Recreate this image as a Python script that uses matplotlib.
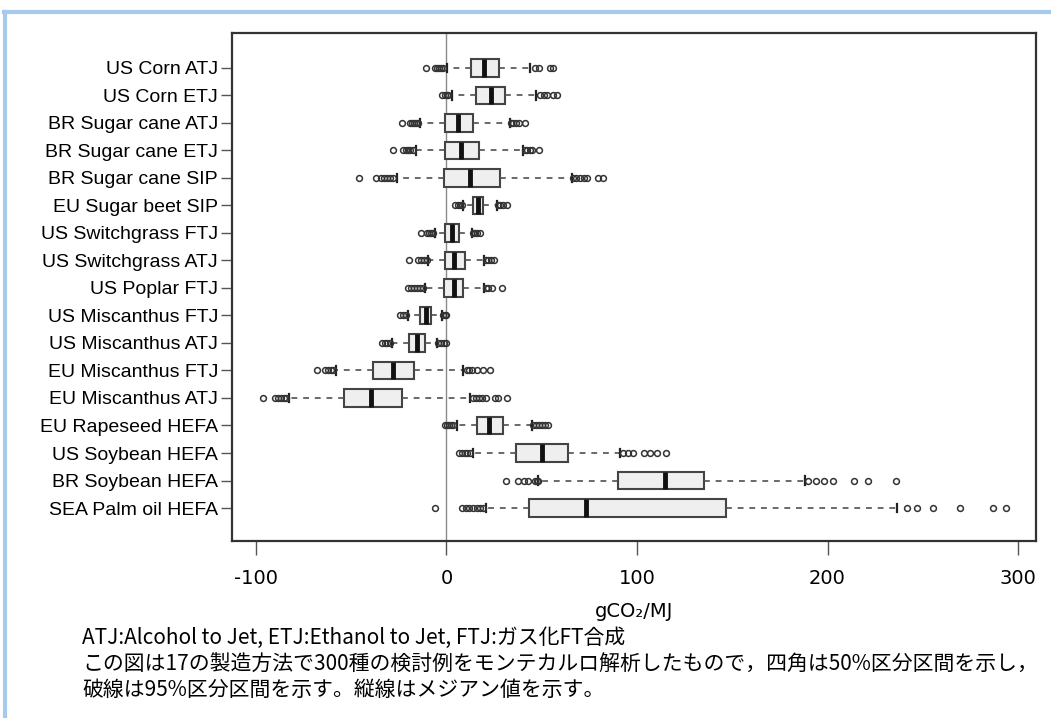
import matplotlib
matplotlib.use('Agg')
import matplotlib.pyplot as plt
from matplotlib.lines import Line2D

labels = ['US Corn ATJ', 'US Corn ETJ', 'BR Sugar cane ATJ', 'BR Sugar cane ETJ',
          'BR Sugar cane SIP', 'EU Sugar beet SIP', 'US Switchgrass FTJ',
          'US Switchgrass ATJ', 'US Poplar FTJ', 'US Miscanthus FTJ',
          'US Miscanthus ATJ', 'EU Miscanthus FTJ', 'EU Miscanthus ATJ',
          'EU Rapeseed HEFA', 'US Soybean HEFA', 'BR Soybean HEFA', 'SEA Palm oil HEFA']

q1 = [12.7, 15.3, -0.8, -0.8, -1.1, 13.7, -0.8, -0.8, -1.3, -13.9, -19.9, -38.4, -53.6, 16.2, 36.5, 90.2, 43.3]
med = [19.7, 23.2, 6.2, 7.4, 12.3, 16.4, 2.7, 4.1, 4.1, -10.9, -15.3, -28.3, -39.8, 22.5, 50.0, 114.7, 73.2]
q3 = [27.4, 30.9, 14.1, 17.2, 28.1, 19.3, 6.4, 9.7, 8.8, -8.1, -11.3, -16.9, -23.5, 29.8, 63.9, 135.2, 146.7]
wlo = [0.5, 2.9, -13.9, -16.0, -26.1, 8.8, -6.0, -9.5, -11.3, -20.0, -28.8, -58.0, -82.5, 5.3, 14.1, 48.2, 20.7]
whi = [44.0, 47.0, 33.3, 40.3, 65.7, 26.3, 13.2, 19.7, 19.7, -2.5, -5.2, 8.8, 12.3, 44.7, 91.1, 188.2, 236.6]
outliers = [
    [-10.8, -6, -5, -4, -3, -2, 46.5, 48.5, 54.5, 55.7],
    [-2.4, -1, 0.2, 0.8, 49, 51, 53, 56, 58],
    [-23.5, -19, -18, -17, -16, -15, 34, 35, 36.5, 38, 41],
    [-28.3, -23, -21.5, -20, -19, -17.6, 41, 42.5, 44, 44.7, 48.7],
    [-45.8, -37, -34.5, -33, -31, -29.5, -28, 66.5, 68, 70, 72, 73.6, 79.5, 82],
    [4.5, 6, 7, 8, 27, 28, 29.5, 31.6],
    [-13.5, -10.4, -9, -8, -7, 14, 15, 16, 17.6],
    [-19.5, -15, -13.5, -12, -10.4, 21, 22, 23.5, 25],
    [-20, -18.5, -17, -15.5, -14, -12.3, 21, 22, 24, 29],
    [-24.4, -23, -21, -1.8, -1, -0.3],
    [-34, -32.5, -31, -29.7, -4.5, -3, -1.5, -0.3],
    [-68.1, -63.8, -62, -60.5, -59.4, 10.6, 12, 13.5, 15.9, 19, 22.8],
    [-96.5, -90, -88.5, -87, -85.5, -84, 14, 15.5, 17, 18.5, 21, 25.5, 27, 31.6],
    [-0.8, 0.5, 1.5, 2.5, 3.6, 45.6, 47, 48.5, 50, 51.5, 53.4],
    [6.7, 8, 9.5, 11, 12.3, 92.8, 95.5, 98, 103.7, 107, 110.5, 115.2],
    [31.2, 37.7, 40.5, 43, 46.5, 47.3, 48, 190, 194, 198, 203, 214, 221.4, 236],
    [-6, 8, 10, 12, 14, 16, 17.5, 19.3, 241.6, 246.8, 255.2, 269.6, 287, 293.7],
]

caption = ['ATJ:Alcohol to Jet, ETJ:Ethanol to Jet, FTJ:ガス化FT合成',
           'この図は17の製造方法で300種の検討例をモンテカルロ解析したもので，四角は50%区分区間を示し，',
           '破線は95%区分区間を示す。縦線はメジアン値を示す。']

stats = []
for i in range(len(labels)):
    stats.append(dict(label=labels[i], q1=q1[i], med=med[i], q3=q3[i],
                      whislo=wlo[i], whishi=whi[i], fliers=outliers[i]))

fig = plt.figure(figsize=(10.51, 7.18), dpi=100)
ax = fig.add_axes([0.2207, 0.2465, 0.765, 0.7075])

ax.axvline(0, color='#8a8a8a', lw=1, zorder=1)

ax.bxp(stats, positions=range(1, 18), orientation='horizontal', widths=0.63,
       patch_artist=True, capwidths=0.32,
       boxprops=dict(facecolor='#efefef', edgecolor='#444444', lw=1.5),
       medianprops=dict(color='#111111', lw=3.5),
       whiskerprops=dict(color='#505050', lw=1.2, linestyle=(0, (3.5, 3.5))),
       capprops=dict(color='#222222', lw=1.6),
       flierprops=dict(marker='o', markersize=4.2, markerfacecolor='none',
                       markeredgecolor='#333333', markeredgewidth=1.1),
       zorder=3)

ax.set_xlim(-112.6, 309.4)
ax.set_ylim(18.2, -0.27)
ax.set_yticks(range(1, 18))
ax.set_yticklabels(labels, fontsize=14, family='Liberation Sans')
ax.set_xticks([-100, 0, 100, 200, 300])
ax.set_xticklabels(['-100', '0', '100', '200', '300'], fontsize=14,
                   family=['Liberation Sans Narrow', 'DejaVu Sans'])
ax.tick_params(axis='x', length=10, width=1, color='#555555', pad=10)
ax.tick_params(axis='y', length=8, width=1, color='#555555', pad=2)
for s in ax.spines.values():
    s.set_color('#333333')
    s.set_linewidth(1.6)

ax.set_xlabel('gCO₂/MJ', fontsize=14, family=['Liberation Sans Narrow', 'DejaVu Sans'], labelpad=10)

ys = [0.1114, 0.0738, 0.039]
for t, y in zip(caption, ys):
    fig.text(0.078, y, t, fontsize=15, va='center',
             family=['Noto Sans CJK JP', 'DejaVu Sans'])

# light blue frame at top and left
fig.add_artist(Line2D([0.004, 1.0], [1 - 12 / 718, 1 - 12 / 718], color='#a6c9ec', lw=3,
                      transform=fig.transFigure))
fig.add_artist(Line2D([0.0045, 0.0045], [0, 1 - 12 / 718], color='#a6c9ec', lw=3,
                      transform=fig.transFigure))

plt.savefig('out.png')
